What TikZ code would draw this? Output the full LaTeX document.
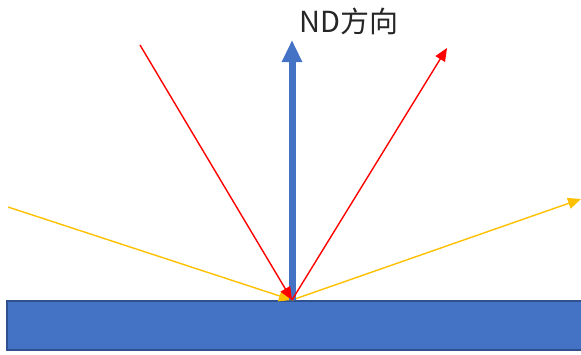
\documentclass[tikz,border=0pt]{standalone}
\usepackage{fontspec}
\newfontfamily\cjkfont{Noto Sans CJK SC}
\usepackage{xcolor}
\usetikzlibrary{arrows.meta,positioning}

\definecolor{plateblue}{HTML}{4472C4}
\definecolor{plateedge}{HTML}{2F528F}
\definecolor{rayred}{HTML}{FF0000}
\definecolor{rayyellow}{HTML}{FFC000}

\begin{document}
\begin{tikzpicture}[x=1pt, y=-1pt,
  plate/.style={draw=plateedge, fill=plateblue, line width=1.8pt,
    minimum width=578pt, minimum height=49pt, inner sep=0pt},
  rayarr/.style={-{Triangle[length=13pt,width=11pt]}, line width=1.4pt},
  ndarr/.style={-{Triangle[length=22pt,width=19pt]}, line width=7pt, draw=plateblue},
  lbl/.style={font=\cjkfont\fontsize{29}{32}\selectfont, text=black!85, inner sep=0pt},
]
  \useasboundingbox (0,0) rectangle (581,354);

  \node[plate] (plate) at (296,325.5) {};
  \coordinate (O) at (292,300);

  % incoming and reflected rays
  \coordinate (yin)  at (8,207);
  \coordinate (yout) at (581,199);
  \coordinate (rin)  at (140,45);
  \coordinate (rout) at (447,48);
  \coordinate (nd)   at (292,40);

  \draw[rayarr, rayyellow] (yin) -- (O);
  \draw[rayarr, rayyellow] (O) -- (yout);
  \draw[ndarr] (O) -- (nd);
  \draw[rayarr, rayred] (rin) -- (O);
  \draw[rayarr, rayred] (O) -- (rout);

  \node[lbl] (ndtext) at (349,21) {ND方向};
\end{tikzpicture}
\end{document}
